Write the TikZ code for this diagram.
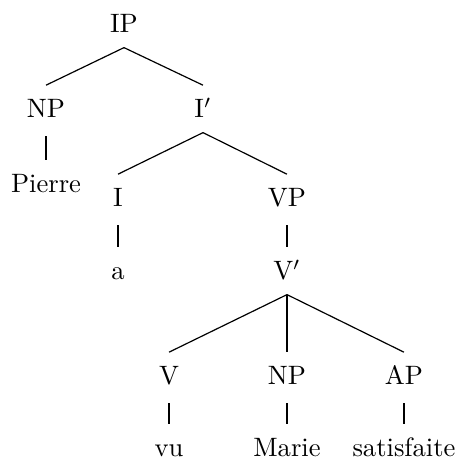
\documentclass[tikz,border=0pt]{standalone}
\begin{document}
\begin{tikzpicture}[x=0.376pt,y=-0.376pt,
  cat/.style={anchor=base,inner xsep=1pt,inner ysep=5.3pt,text height=6.83pt,text depth=0pt},
  branch/.style={draw,line width=0.45pt},
  unary/.style={draw,line width=0.45pt,shorten <=1.4pt}]
\useasboundingbox (0,0) rectangle (462,461);
% level 0
\node[cat] (ip) at (124,33) {IP};
% level 1
\node[cat] (np1) at (46,118) {NP};
\node[cat] (ibar) at (203,118) {I$'$};
% level 2
\node[cat] (pierre) at (46,193) {Pierre};
\node[cat] (i) at (118,207) {I};
\node[cat] (vp) at (287,207) {VP};
% level 3
\node[cat] (a) at (118,280) {a};
\node[cat] (vbar) at (287,280) {V$'$};
% level 4
\node[cat] (v) at (169,385) {V};
\node[cat] (np2) at (287,385) {NP};
\node[cat] (ap) at (404,385) {AP};
% leaves
\node[cat] (vu) at (169,457) {vu};
\node[cat] (marie) at (287,457) {Marie};
\node[cat] (sat) at (404,457) {satisfaite};
% branches
\draw[branch] (ip.south) -- (np1.north);
\draw[branch] (ip.south) -- (ibar.north);
\draw[branch] (ibar.south) -- (i.north);
\draw[branch] (ibar.south) -- (vp.north);
\draw[branch] (vbar.south) -- (v.north);
\draw[branch] (vbar.south) -- (np2.north);
\draw[branch] (vbar.south) -- (ap.north);
% unary links
\draw[unary] (np1.south) -- (pierre.north);
\draw[unary] (i.south) -- (a.north);
\draw[unary] (vp.south) -- (vbar.north);
\draw[unary] (v.south) -- (vu.north);
\draw[unary] (np2.south) -- (marie.north);
\draw[unary] (ap.south) -- (sat.north);
\end{tikzpicture}
\end{document}
